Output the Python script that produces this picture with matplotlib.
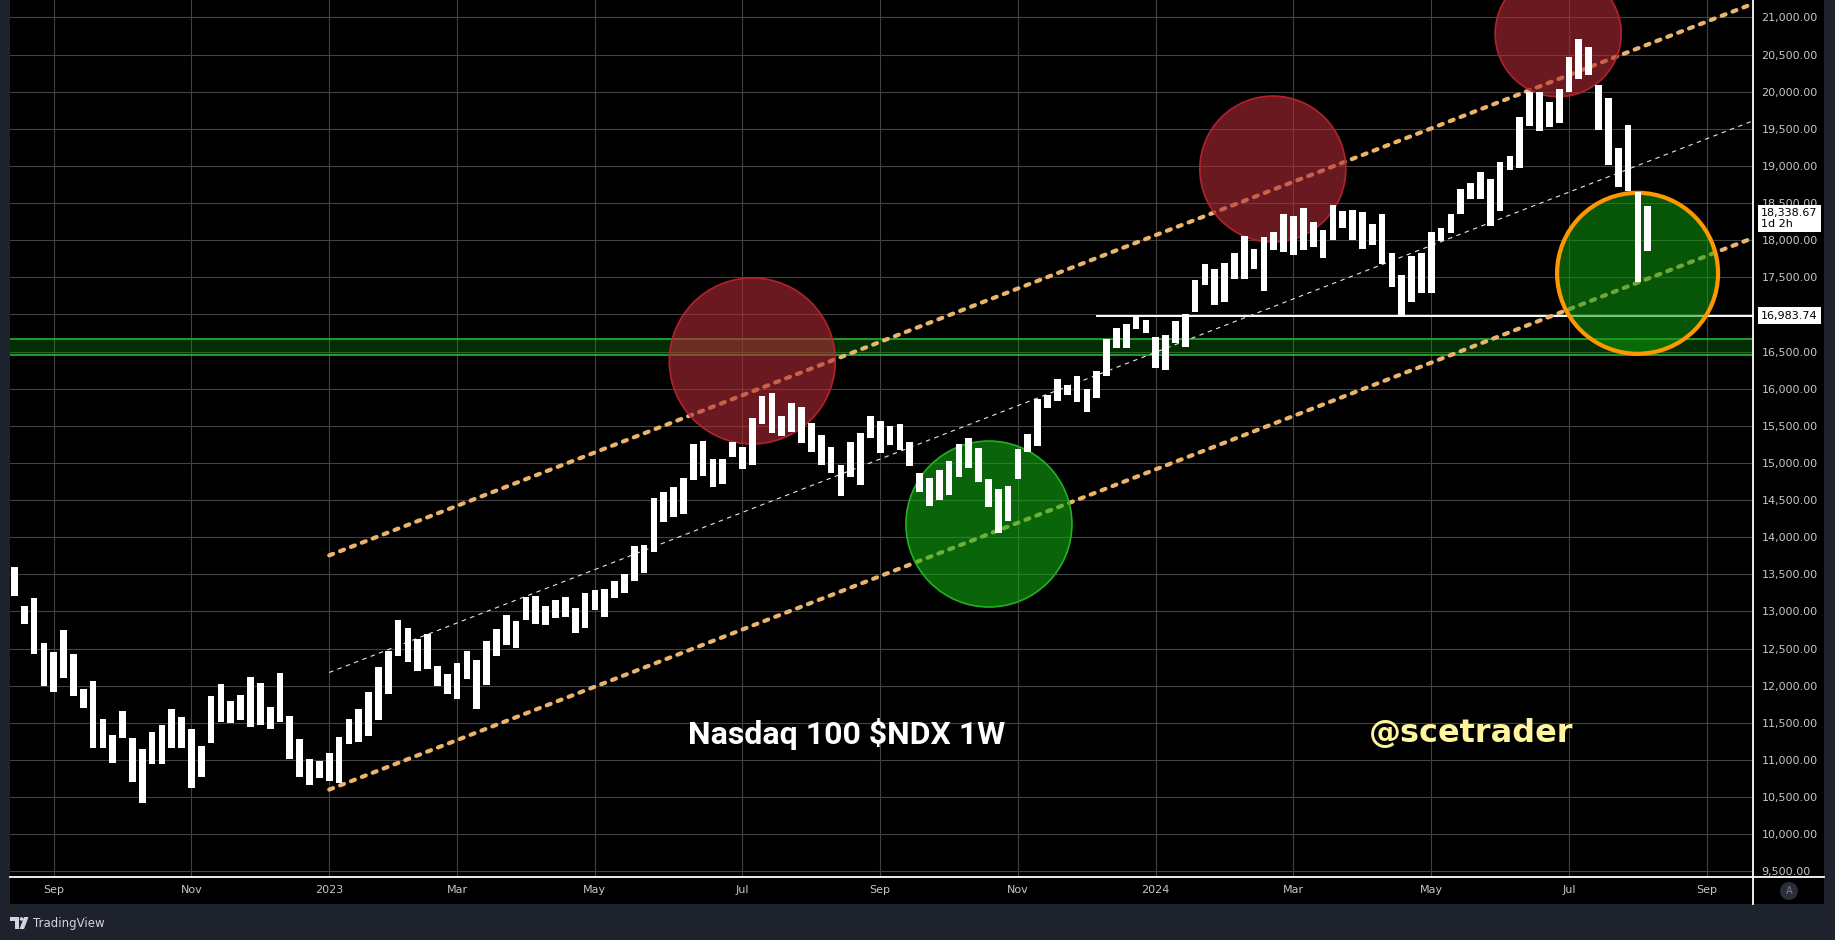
import matplotlib
matplotlib.use("Agg")
import matplotlib.pyplot as plt
import numpy as np
from matplotlib.patches import Circle, Rectangle, Polygon
from matplotlib.transforms import ScaledTranslation, blended_transform_factory, Affine2D
from matplotlib.lines import Line2D
from matplotlib.ticker import FuncFormatter

# bar bodies (3-day candles as drawn on the chart)
body_top = [13598, 13073, 13181, 12575, 12453, 12750, 12427, 11955, 12063, 11551,
            11336, 11659, 11295, 11147, 11376, 11470, 11686, 11578, 11416, 11188,
            11861, 12023, 11794, 11874, 12117, 12036, 11713, 12171, 11592, 11282,
            11012, 10990, 11093, 11309, 11551, 11686, 11915, 12251, 12467, 12885,
            12777, 12629, 12696, 12265, 12157, 12305, 12467, 12346, 12602, 12763,
            12952, 12871, 13194, 13208, 13073, 13154, 13194, 13046, 13248, 13289,
            13302, 13410, 13504, 13881, 13895, 14528, 14608, 14676, 14797, 15255,
            15295, 15053, 15053, 15282, 15214, 15605, 15901, 15942, 15632, 15807,
            15753, 15538, 15376, 15214, 14972, 15282, 15403, 15632, 15565, 15497,
            15524, 15282, 14864, 14797, 14905, 15026, 15255, 15336, 15201, 14783,
            14649, 14689, 15188, 15390, 15861, 15919, 16130, 16050, 16171, 15996,
            16238, 16669, 16817, 16871, 16979, 16925, 16696, 16723, 16911, 17006,
            17464, 17679, 17612, 17693, 17827, 18056, 17881, 18043, 18110, 18352,
            18326, 18433, 18245, 18137, 18474, 18393, 18406, 18379, 18218, 18352,
            17827, 17531, 17787, 17827, 18110, 18164, 18352, 18689, 18770, 18918,
            18824, 19053, 19134, 19659, 19996, 19996, 19861, 20036, 20467, 20709,
            20602, 20090, 19915, 19241, 19551, 18649, 18460]
body_bottom = [13212, 12835, 12431, 12000, 11919, 12107, 11865, 11703, 11165, 11165,
               10963, 11299, 10707, 10424, 10949, 10949, 11165, 11165, 10626, 10774,
               11232, 11515, 11501, 11542, 11447, 11474, 11420, 11515, 11017, 10774,
               10666, 10761, 10720, 10693, 11219, 11245, 11326, 11542, 11892, 12404,
               12323, 12202, 12229, 12000, 11892, 11825, 12094, 11690, 12013, 12404,
               12552, 12511, 12889, 12835, 12821, 12915, 12929, 12713, 12781, 13023,
               12929, 13185, 13252, 13414, 13522, 13804, 14208, 14276, 14316, 14774,
               14828, 14680, 14720, 15084, 14922, 14976, 15528, 15407, 15367, 15421,
               15272, 15151, 14976, 14868, 14559, 14814, 14707, 15340, 15138, 15245,
               15178, 14963, 14612, 14424, 14505, 14572, 14814, 14936, 14747, 14410,
               14060, 14222, 14788, 15151, 15232, 15744, 15838, 15919, 15825, 15690,
               15878, 16175, 16548, 16548, 16804, 16750, 16278, 16251, 16615, 16561,
               17033, 17396, 17127, 17167, 17477, 17477, 17612, 17315, 17868, 17841,
               17800, 17868, 17908, 17760, 18002, 18164, 18002, 17881, 17935, 17679,
               17369, 16965, 17167, 17289, 17289, 17989, 18097, 18352, 18555, 18555,
               18191, 18393, 18945, 18972, 19538, 19470, 19524, 19578, 19996, 20171,
               20225, 19484, 19012, 18716, 18662, 17437, 17854]

month_idx = [4, 18, 32, 45, 59, 74, 88, 102, 116, 130, 144, 158, 172]
month_labels = ["Sep", "Nov", "2023", "Mar", "May", "Jul", "Sep",
                "Nov", "2024", "Mar", "May", "Jul", "Sep"]
price_ticks = np.arange(9500, 21001, 500)

# drawings
channel_start = 32
channel_upper0 = 13755
channel_lower0 = 10600
channel_slope = 51.35          # price per bar
support_level = 16983.74
support_start = 110
zone_low, zone_high = 16450, 16665
last_price = 18338.67

# circles: bar index, price, radius (px)
red_circles = [(75, 16373, 83), (127.9, 18958, 73), (156.9, 20781, 63)]
green_circle = (99.05, 14177, 83)
orange_circle = (164.97, 17554, 80.5)

W, H = 1835, 940
fig = plt.figure(figsize=(W / 100, H / 100), dpi=100, facecolor="#1e222d")
fig.patches.append(Rectangle((10 / W, 36 / H), 1814 / W, 904 / H, transform=fig.transFigure,
                             facecolor="black", edgecolor="none", zorder=-10))

ax = fig.add_axes([10 / W, 63 / H, 1743 / W, 877 / H])
ax.set_facecolor("black")
ax.set_zorder(1)
xl = (-0.44, 176.7)

ax.grid(True, color="#424242", lw=0.8, zorder=0)
ax.set_axisbelow(True)

# green zone
ax.axhspan(zone_low, zone_high, facecolor=(0.05, 0.6, 0.05, 0.3), lw=0, zorder=1)
ax.axhline(zone_low, color="#27b327", lw=1.2, zorder=1)
ax.axhline(zone_high, color="#27b327", lw=1.2, zorder=1)

# support line
ax.hlines(support_level, support_start - 0.1, xl[1], color="white", lw=1.4, zorder=1.5)

# parallel channel
cx = np.array([channel_start, xl[1]])
up = channel_upper0 + channel_slope * (cx - channel_start)
lo = channel_lower0 + channel_slope * (cx - channel_start)
mid = (up + lo) / 2
for yy in (up, lo):
    ax.plot(cx, yy, color="#eab46c", lw=3, dashes=(1.0, 1.8),
            dash_capstyle="round", zorder=2)
ax.plot(cx, mid, color="#e6e6e6", lw=0.8, dashes=(4, 4), zorder=2)


def add_circle(x, y, r, face, edge, lw):
    tr = fig.dpi_scale_trans + ScaledTranslation(x, y, ax.transData)
    ax.add_patch(Circle((0, 0), r / 100, transform=tr, facecolor=face,
                        edgecolor=edge, lw=lw, zorder=3))


for (x, y, r) in red_circles:
    add_circle(x, y, r, (0.70, 0.17, 0.21, 0.6), "#b3222b", 1.2)
add_circle(*green_circle, (0.07, 0.69, 0.07, 0.58), "#22b022", 1.2)
add_circle(*orange_circle, (0.05, 0.62, 0.05, 0.55), "#ff9800", 3)

# candles
idx = np.arange(len(body_top))
tops = np.array(body_top)
bots = np.array(body_bottom)
ax.bar(idx, tops - bots, bottom=bots, width=0.68, color="white", lw=0, zorder=5)

# texts
ax.text(68.5, 11350, "Nasdaq 100 $NDX 1W", color="white", fontsize=23,
        fontweight="bold", family="Roboto", va="center", ha="left", zorder=6)
ax.text(137.7, 11350, "@scetrader", color="#fff59d", fontsize=23,
        fontweight="bold", family="DejaVu Sans", va="center", ha="left", zorder=6)

# axes
ax.set_xlim(*xl)
ax.set_ylim(9423, 21235)
ax.set_xticks(month_idx)
ax.set_xticklabels(month_labels)
ax.set_yticks(price_ticks)
ax.yaxis.set_major_formatter(FuncFormatter(lambda v, p: f"{v:,.2f}"))
ax.yaxis.tick_right()
ax.tick_params(axis="y", length=0, pad=6, labelsize=8, colors="#c3c6ce")
ax.tick_params(axis="x", length=0, pad=6, labelsize=8, colors="#c3c6ce")
for s in ax.spines.values():
    s.set_visible(False)

fig.add_artist(Line2D([10 / W, 1824 / W], [63 / H, 63 / H], color="white", lw=1.3,
                      transform=fig.transFigure, zorder=5))
fig.add_artist(Line2D([1753 / W, 1753 / W], [36 / H, 1], color="white", lw=1.3,
                      transform=fig.transFigure, zorder=5))

# price labels on axis
tr = blended_transform_factory(ax.transAxes, ax.transData)
ax.text(1 + 8 / 1743, support_level, f"{support_level:,.2f}", transform=tr, ha="left",
        va="center", fontsize=8, color="black", clip_on=False, zorder=10,
        bbox=dict(boxstyle="square,pad=0.3", fc="white", ec="none"))
ax.annotate(f"{last_price:,.2f}\n1d 2h", xy=(1, last_price), xycoords=tr,
            xytext=(8, 7), textcoords="offset pixels", ha="left", va="top",
            fontsize=8, color="black", linespacing=1.1, annotation_clip=False,
            zorder=10, bbox=dict(boxstyle="square,pad=0.3", fc="white", ec="none"))

# auto-scale button
fig.patches.append(Circle((17.89, 0.49), 0.09, transform=fig.dpi_scale_trans,
                          facecolor="#2a2e39", edgecolor="none"))
fig.text(1789 / W, 49 / H, "A", color="#787b86", fontsize=7, ha="center", va="center")

# TradingView footer
px = Affine2D().scale(1, -1).translate(0, H) + Affine2D()
logo = "#d1d4dc"
fig.patches.append(Polygon([(10, 917), (19, 917), (19, 929), (14.5, 929), (14.5, 921), (10, 921)],
                           closed=True, transform=px, facecolor=logo, edgecolor="none"))
fig.patches.append(Circle((21.5, 919), 1.8, transform=px, facecolor=logo, edgecolor="none"))
fig.patches.append(Polygon([(24, 917), (28.5, 917), (24, 929), (19.5, 929)],
                           closed=True, transform=px, facecolor=logo, edgecolor="none"))
fig.text(33 / W, (H - 923) / H, "TradingView", color=logo, fontsize=8.5, ha="left", va="center")

fig.savefig("out.png", dpi=100, facecolor=fig.get_facecolor())
